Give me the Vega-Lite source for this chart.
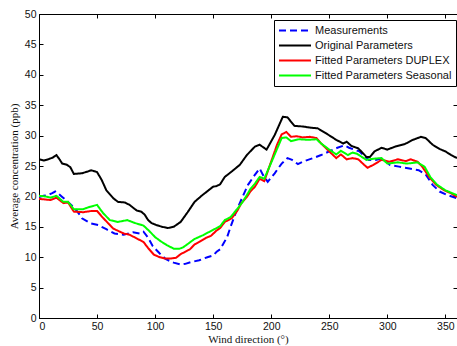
{
"$schema": "https://vega.github.io/schema/vega-lite/v6.json",
"width": 418, "height": 304,
"autosize": {"type": "none"},
"padding": {"left": 39, "top": 14, "right": 0, "bottom": 28},
"background": "white",
"data": {"values": [
{"s":"Measurements","x":0,"y":19.9},{"s":"Measurements","x":4,"y":20.1},{"s":"Measurements","x":7,"y":20.2},{"s":"Measurements","x":11,"y":20.5},{"s":"Measurements","x":14,"y":20.8},{"s":"Measurements","x":17,"y":20.4},{"s":"Measurements","x":20,"y":19.9},{"s":"Measurements","x":25,"y":19.1},{"s":"Measurements","x":31,"y":18.0},{"s":"Measurements","x":35,"y":17.0},{"s":"Measurements","x":37,"y":16.4},{"s":"Measurements","x":44,"y":15.6},{"s":"Measurements","x":51,"y":15.3},{"s":"Measurements","x":58,"y":14.6},{"s":"Measurements","x":65,"y":13.9},{"s":"Measurements","x":73,"y":13.7},{"s":"Measurements","x":81,"y":14.1},{"s":"Measurements","x":87,"y":13.9},{"s":"Measurements","x":90,"y":14.2},{"s":"Measurements","x":94,"y":13.2},{"s":"Measurements","x":98,"y":11.8},{"s":"Measurements","x":104,"y":10.6},{"s":"Measurements","x":109,"y":9.7},{"s":"Measurements","x":116,"y":9.1},{"s":"Measurements","x":122,"y":8.8},{"s":"Measurements","x":126,"y":8.9},{"s":"Measurements","x":131,"y":9.2},{"s":"Measurements","x":138,"y":9.5},{"s":"Measurements","x":145,"y":10.0},{"s":"Measurements","x":150,"y":10.3},{"s":"Measurements","x":153,"y":10.9},{"s":"Measurements","x":156,"y":11.3},{"s":"Measurements","x":159,"y":12.3},{"s":"Measurements","x":162,"y":13.3},{"s":"Measurements","x":165,"y":15.0},{"s":"Measurements","x":170,"y":17.6},{"s":"Measurements","x":175,"y":19.8},{"s":"Measurements","x":180,"y":21.9},{"s":"Measurements","x":185,"y":23.3},{"s":"Measurements","x":190,"y":24.6},{"s":"Measurements","x":193,"y":23.5},{"s":"Measurements","x":197,"y":22.4},{"s":"Measurements","x":203,"y":23.8},{"s":"Measurements","x":209,"y":25.4},{"s":"Measurements","x":214,"y":26.3},{"s":"Measurements","x":218,"y":26.0},{"s":"Measurements","x":223,"y":25.3},{"s":"Measurements","x":227,"y":25.7},{"s":"Measurements","x":236,"y":26.3},{"s":"Measurements","x":243,"y":26.8},{"s":"Measurements","x":250,"y":27.4},{"s":"Measurements","x":257,"y":28.0},{"s":"Measurements","x":263,"y":28.4},{"s":"Measurements","x":267,"y":28.0},{"s":"Measurements","x":276,"y":27.4},{"s":"Measurements","x":284,"y":26.0},{"s":"Measurements","x":290,"y":26.0},{"s":"Measurements","x":296,"y":26.3},{"s":"Measurements","x":302,"y":25.2},{"s":"Measurements","x":310,"y":24.9},{"s":"Measurements","x":319,"y":24.6},{"s":"Measurements","x":327,"y":24.3},{"s":"Measurements","x":333,"y":23.6},{"s":"Measurements","x":339,"y":21.9},{"s":"Measurements","x":345,"y":20.8},{"s":"Measurements","x":352,"y":20.2},{"s":"Measurements","x":360,"y":19.7},
{"s":"Original Parameters","x":0,"y":26.1},{"s":"Original Parameters","x":4,"y":25.9},{"s":"Original Parameters","x":8,"y":26.1},{"s":"Original Parameters","x":12,"y":26.4},{"s":"Original Parameters","x":15,"y":26.8},{"s":"Original Parameters","x":18,"y":26.0},{"s":"Original Parameters","x":20,"y":25.4},{"s":"Original Parameters","x":24,"y":25.2},{"s":"Original Parameters","x":27,"y":24.8},{"s":"Original Parameters","x":30,"y":23.7},{"s":"Original Parameters","x":37,"y":23.8},{"s":"Original Parameters","x":42,"y":24.1},{"s":"Original Parameters","x":45,"y":24.3},{"s":"Original Parameters","x":50,"y":24.0},{"s":"Original Parameters","x":54,"y":22.7},{"s":"Original Parameters","x":58,"y":21.0},{"s":"Original Parameters","x":64,"y":19.7},{"s":"Original Parameters","x":68,"y":19.1},{"s":"Original Parameters","x":74,"y":19.0},{"s":"Original Parameters","x":78,"y":18.6},{"s":"Original Parameters","x":84,"y":17.7},{"s":"Original Parameters","x":88,"y":17.5},{"s":"Original Parameters","x":91,"y":17.0},{"s":"Original Parameters","x":94,"y":16.1},{"s":"Original Parameters","x":97,"y":15.6},{"s":"Original Parameters","x":101,"y":15.3},{"s":"Original Parameters","x":106,"y":15.0},{"s":"Original Parameters","x":111,"y":14.8},{"s":"Original Parameters","x":116,"y":15.0},{"s":"Original Parameters","x":122,"y":15.8},{"s":"Original Parameters","x":128,"y":17.4},{"s":"Original Parameters","x":134,"y":19.1},{"s":"Original Parameters","x":140,"y":20.1},{"s":"Original Parameters","x":146,"y":21.0},{"s":"Original Parameters","x":150,"y":21.6},{"s":"Original Parameters","x":153,"y":21.7},{"s":"Original Parameters","x":156,"y":22.0},{"s":"Original Parameters","x":160,"y":23.2},{"s":"Original Parameters","x":166,"y":24.1},{"s":"Original Parameters","x":173,"y":25.2},{"s":"Original Parameters","x":179,"y":26.8},{"s":"Original Parameters","x":182,"y":27.4},{"s":"Original Parameters","x":186,"y":28.2},{"s":"Original Parameters","x":190,"y":28.5},{"s":"Original Parameters","x":196,"y":27.7},{"s":"Original Parameters","x":203,"y":30.1},{"s":"Original Parameters","x":210,"y":33.1},{"s":"Original Parameters","x":214,"y":33.0},{"s":"Original Parameters","x":220,"y":31.6},{"s":"Original Parameters","x":227,"y":31.5},{"s":"Original Parameters","x":234,"y":31.3},{"s":"Original Parameters","x":240,"y":31.2},{"s":"Original Parameters","x":247,"y":30.4},{"s":"Original Parameters","x":256,"y":29.3},{"s":"Original Parameters","x":262,"y":28.7},{"s":"Original Parameters","x":265,"y":29.0},{"s":"Original Parameters","x":269,"y":28.3},{"s":"Original Parameters","x":275,"y":27.9},{"s":"Original Parameters","x":282,"y":26.5},{"s":"Original Parameters","x":285,"y":26.5},{"s":"Original Parameters","x":289,"y":27.4},{"s":"Original Parameters","x":295,"y":28.0},{"s":"Original Parameters","x":300,"y":27.7},{"s":"Original Parameters","x":307,"y":28.2},{"s":"Original Parameters","x":315,"y":28.6},{"s":"Original Parameters","x":322,"y":29.3},{"s":"Original Parameters","x":329,"y":29.8},{"s":"Original Parameters","x":333,"y":29.6},{"s":"Original Parameters","x":339,"y":28.5},{"s":"Original Parameters","x":345,"y":27.8},{"s":"Original Parameters","x":350,"y":27.4},{"s":"Original Parameters","x":355,"y":26.8},{"s":"Original Parameters","x":360,"y":26.3},
{"s":"Fitted Parameters DUPLEX","x":0,"y":19.6},{"s":"Fitted Parameters DUPLEX","x":5,"y":19.5},{"s":"Fitted Parameters DUPLEX","x":10,"y":19.4},{"s":"Fitted Parameters DUPLEX","x":15,"y":19.8},{"s":"Fitted Parameters DUPLEX","x":21,"y":18.9},{"s":"Fitted Parameters DUPLEX","x":25,"y":19.0},{"s":"Fitted Parameters DUPLEX","x":30,"y":17.5},{"s":"Fitted Parameters DUPLEX","x":38,"y":17.4},{"s":"Fitted Parameters DUPLEX","x":45,"y":17.6},{"s":"Fitted Parameters DUPLEX","x":50,"y":17.6},{"s":"Fitted Parameters DUPLEX","x":55,"y":16.5},{"s":"Fitted Parameters DUPLEX","x":60,"y":15.5},{"s":"Fitted Parameters DUPLEX","x":64,"y":14.7},{"s":"Fitted Parameters DUPLEX","x":73,"y":13.9},{"s":"Fitted Parameters DUPLEX","x":78,"y":13.7},{"s":"Fitted Parameters DUPLEX","x":84,"y":13.1},{"s":"Fitted Parameters DUPLEX","x":90,"y":12.5},{"s":"Fitted Parameters DUPLEX","x":94,"y":11.5},{"s":"Fitted Parameters DUPLEX","x":99,"y":10.4},{"s":"Fitted Parameters DUPLEX","x":104,"y":10.0},{"s":"Fitted Parameters DUPLEX","x":108,"y":9.8},{"s":"Fitted Parameters DUPLEX","x":114,"y":9.8},{"s":"Fitted Parameters DUPLEX","x":118,"y":9.9},{"s":"Fitted Parameters DUPLEX","x":122,"y":10.5},{"s":"Fitted Parameters DUPLEX","x":130,"y":11.3},{"s":"Fitted Parameters DUPLEX","x":134,"y":12.1},{"s":"Fitted Parameters DUPLEX","x":138,"y":12.5},{"s":"Fitted Parameters DUPLEX","x":144,"y":13.2},{"s":"Fitted Parameters DUPLEX","x":148,"y":13.5},{"s":"Fitted Parameters DUPLEX","x":153,"y":14.4},{"s":"Fitted Parameters DUPLEX","x":156,"y":14.8},{"s":"Fitted Parameters DUPLEX","x":160,"y":15.8},{"s":"Fitted Parameters DUPLEX","x":164,"y":16.2},{"s":"Fitted Parameters DUPLEX","x":166,"y":16.4},{"s":"Fitted Parameters DUPLEX","x":171,"y":17.7},{"s":"Fitted Parameters DUPLEX","x":174,"y":18.8},{"s":"Fitted Parameters DUPLEX","x":179,"y":19.9},{"s":"Fitted Parameters DUPLEX","x":182,"y":20.8},{"s":"Fitted Parameters DUPLEX","x":186,"y":21.6},{"s":"Fitted Parameters DUPLEX","x":190,"y":22.9},{"s":"Fitted Parameters DUPLEX","x":194,"y":22.5},{"s":"Fitted Parameters DUPLEX","x":201,"y":26.3},{"s":"Fitted Parameters DUPLEX","x":205,"y":28.5},{"s":"Fitted Parameters DUPLEX","x":209,"y":30.2},{"s":"Fitted Parameters DUPLEX","x":213,"y":30.6},{"s":"Fitted Parameters DUPLEX","x":217,"y":29.8},{"s":"Fitted Parameters DUPLEX","x":222,"y":29.9},{"s":"Fitted Parameters DUPLEX","x":227,"y":29.7},{"s":"Fitted Parameters DUPLEX","x":233,"y":29.8},{"s":"Fitted Parameters DUPLEX","x":239,"y":29.6},{"s":"Fitted Parameters DUPLEX","x":243,"y":28.7},{"s":"Fitted Parameters DUPLEX","x":250,"y":27.4},{"s":"Fitted Parameters DUPLEX","x":256,"y":26.3},{"s":"Fitted Parameters DUPLEX","x":260,"y":26.9},{"s":"Fitted Parameters DUPLEX","x":265,"y":26.1},{"s":"Fitted Parameters DUPLEX","x":270,"y":26.3},{"s":"Fitted Parameters DUPLEX","x":275,"y":26.1},{"s":"Fitted Parameters DUPLEX","x":280,"y":25.2},{"s":"Fitted Parameters DUPLEX","x":283,"y":24.7},{"s":"Fitted Parameters DUPLEX","x":288,"y":25.2},{"s":"Fitted Parameters DUPLEX","x":295,"y":26.0},{"s":"Fitted Parameters DUPLEX","x":302,"y":25.7},{"s":"Fitted Parameters DUPLEX","x":309,"y":26.1},{"s":"Fitted Parameters DUPLEX","x":316,"y":25.8},{"s":"Fitted Parameters DUPLEX","x":320,"y":26.1},{"s":"Fitted Parameters DUPLEX","x":326,"y":25.7},{"s":"Fitted Parameters DUPLEX","x":330,"y":24.9},{"s":"Fitted Parameters DUPLEX","x":336,"y":23.2},{"s":"Fitted Parameters DUPLEX","x":342,"y":21.9},{"s":"Fitted Parameters DUPLEX","x":349,"y":21.0},{"s":"Fitted Parameters DUPLEX","x":355,"y":20.5},{"s":"Fitted Parameters DUPLEX","x":360,"y":19.9},
{"s":"Fitted Parameters Seasonal","x":0,"y":20.1},{"s":"Fitted Parameters Seasonal","x":5,"y":20.0},{"s":"Fitted Parameters Seasonal","x":10,"y":19.8},{"s":"Fitted Parameters Seasonal","x":15,"y":20.1},{"s":"Fitted Parameters Seasonal","x":21,"y":19.1},{"s":"Fitted Parameters Seasonal","x":25,"y":19.1},{"s":"Fitted Parameters Seasonal","x":30,"y":17.9},{"s":"Fitted Parameters Seasonal","x":38,"y":17.9},{"s":"Fitted Parameters Seasonal","x":44,"y":18.3},{"s":"Fitted Parameters Seasonal","x":50,"y":18.6},{"s":"Fitted Parameters Seasonal","x":55,"y":17.3},{"s":"Fitted Parameters Seasonal","x":61,"y":16.1},{"s":"Fitted Parameters Seasonal","x":68,"y":15.8},{"s":"Fitted Parameters Seasonal","x":76,"y":16.1},{"s":"Fitted Parameters Seasonal","x":83,"y":15.6},{"s":"Fitted Parameters Seasonal","x":90,"y":15.2},{"s":"Fitted Parameters Seasonal","x":95,"y":14.3},{"s":"Fitted Parameters Seasonal","x":100,"y":13.3},{"s":"Fitted Parameters Seasonal","x":105,"y":12.6},{"s":"Fitted Parameters Seasonal","x":110,"y":12.0},{"s":"Fitted Parameters Seasonal","x":116,"y":11.4},{"s":"Fitted Parameters Seasonal","x":121,"y":11.4},{"s":"Fitted Parameters Seasonal","x":124,"y":11.6},{"s":"Fitted Parameters Seasonal","x":129,"y":12.3},{"s":"Fitted Parameters Seasonal","x":134,"y":13.0},{"s":"Fitted Parameters Seasonal","x":141,"y":13.6},{"s":"Fitted Parameters Seasonal","x":145,"y":14.0},{"s":"Fitted Parameters Seasonal","x":150,"y":14.5},{"s":"Fitted Parameters Seasonal","x":153,"y":14.8},{"s":"Fitted Parameters Seasonal","x":156,"y":15.1},{"s":"Fitted Parameters Seasonal","x":160,"y":16.1},{"s":"Fitted Parameters Seasonal","x":165,"y":16.6},{"s":"Fitted Parameters Seasonal","x":171,"y":18.0},{"s":"Fitted Parameters Seasonal","x":175,"y":19.0},{"s":"Fitted Parameters Seasonal","x":179,"y":20.2},{"s":"Fitted Parameters Seasonal","x":182,"y":21.2},{"s":"Fitted Parameters Seasonal","x":186,"y":22.1},{"s":"Fitted Parameters Seasonal","x":190,"y":23.2},{"s":"Fitted Parameters Seasonal","x":194,"y":22.9},{"s":"Fitted Parameters Seasonal","x":201,"y":26.0},{"s":"Fitted Parameters Seasonal","x":205,"y":27.8},{"s":"Fitted Parameters Seasonal","x":209,"y":29.6},{"s":"Fitted Parameters Seasonal","x":213,"y":29.7},{"s":"Fitted Parameters Seasonal","x":217,"y":29.1},{"s":"Fitted Parameters Seasonal","x":224,"y":29.4},{"s":"Fitted Parameters Seasonal","x":232,"y":29.3},{"s":"Fitted Parameters Seasonal","x":239,"y":29.4},{"s":"Fitted Parameters Seasonal","x":243,"y":28.7},{"s":"Fitted Parameters Seasonal","x":250,"y":27.7},{"s":"Fitted Parameters Seasonal","x":256,"y":26.9},{"s":"Fitted Parameters Seasonal","x":260,"y":27.5},{"s":"Fitted Parameters Seasonal","x":266,"y":26.8},{"s":"Fitted Parameters Seasonal","x":270,"y":27.2},{"s":"Fitted Parameters Seasonal","x":274,"y":27.0},{"s":"Fitted Parameters Seasonal","x":282,"y":26.0},{"s":"Fitted Parameters Seasonal","x":288,"y":26.2},{"s":"Fitted Parameters Seasonal","x":295,"y":26.3},{"s":"Fitted Parameters Seasonal","x":300,"y":25.4},{"s":"Fitted Parameters Seasonal","x":309,"y":25.6},{"s":"Fitted Parameters Seasonal","x":317,"y":25.4},{"s":"Fitted Parameters Seasonal","x":326,"y":25.6},{"s":"Fitted Parameters Seasonal","x":332,"y":24.9},{"s":"Fitted Parameters Seasonal","x":337,"y":23.2},{"s":"Fitted Parameters Seasonal","x":343,"y":21.9},{"s":"Fitted Parameters Seasonal","x":350,"y":21.0},{"s":"Fitted Parameters Seasonal","x":355,"y":20.6},{"s":"Fitted Parameters Seasonal","x":360,"y":20.2}
]},
"layer": [
{
"mark": {"type": "line", "strokeWidth": 2, "clip": true},
"encoding": {
"x": {"field": "x", "type": "quantitative", "scale": {"domain": [0, 360], "nice": false, "zero": false},
 "axis": {"orient": "bottom", "values": [0,50,100,150,200,250,300,350], "title": "Wind direction (°)", "grid": false, "tickSize": -4, "labelPadding": 7, "titlePadding": 2}},
"y": {"field": "y", "type": "quantitative", "scale": {"domain": [0, 50], "nice": false},
 "axis": {"orient": "left", "values": [0,5,10,15,20,25,30,35,40,45,50], "title": "Average concentration (ppb)", "grid": false, "tickSize": -4, "labelPadding": 7, "titlePadding": 5}},
"color": {"field": "s", "type": "nominal", "sort": null,
 "scale": {"domain": ["Measurements","Original Parameters","Fitted Parameters DUPLEX","Fitted Parameters Seasonal"], "range": ["#0000ff","#000000","#ff0000","#00ff00"]},
 "legend": {"title": null}},
"strokeDash": {"field": "s", "type": "nominal", "sort": null,
 "scale": {"domain": ["Measurements","Original Parameters","Fitted Parameters DUPLEX","Fitted Parameters Seasonal"], "range": [[7,4],[1,0],[1,0],[1,0]]},
 "legend": {"title": null}}
}
},
{
"mark": {"type": "point", "opacity": 0},
"encoding": {
"x": {"field": "x", "type": "quantitative", "axis": {"orient": "top", "values": [0,50,100,150,200,250,300,350], "title": null, "labels": false, "domain": false, "grid": false, "tickSize": -4}},
"y": {"field": "y", "type": "quantitative", "axis": {"orient": "right", "values": [0,5,10,15,20,25,30,35,40,45,50], "title": null, "labels": false, "domain": false, "grid": false, "tickSize": -4}}
}
}
],
"resolve": {"axis": {"x": "independent", "y": "independent"}},
"config": {
"view": {"stroke": "black", "strokeWidth": 1},
"axis": {"domainColor": "black", "domainWidth": 1, "tickColor": "black", "tickWidth": 1,
 "labelFont": "Liberation Sans", "labelFontSize": 10.5, "labelColor": "#111",
 "titleFont": "Liberation Serif", "titleFontSize": 11, "titleFontWeight": "normal", "titleColor": "#111"},
"legend": {"orient": "none", "legendX": 235, "legendY": 6, "strokeColor": "black", "strokeWidth": 1, "fillColor": "white",
 "padding": 4, "symbolType": "stroke", "symbolSize": 1024, "symbolStrokeWidth": 2, "symbolOffset": 0, "clipHeight": 13,
 "labelFont": "Liberation Sans", "labelFontSize": 11, "labelColor": "#111", "labelOffset": 3, "rowPadding": 2, "cornerRadius": 0}
}
}
